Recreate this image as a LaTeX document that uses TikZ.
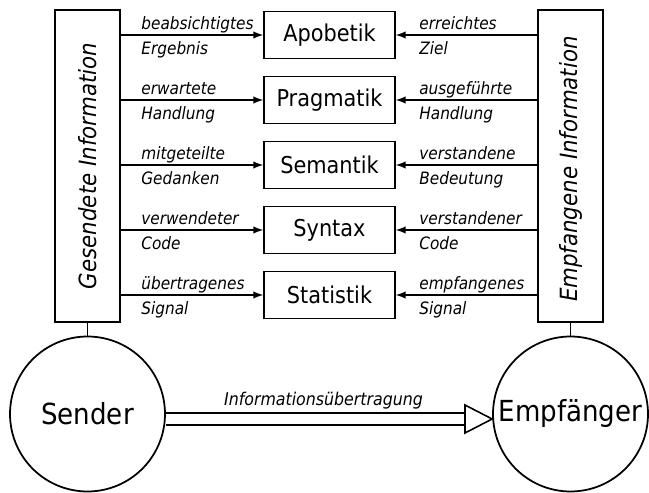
\documentclass[tikz,border=0pt]{standalone}
\usepackage{fontspec}
\setmainfont{DejaVu Sans Condensed}
\usetikzlibrary{backgrounds}

\begin{document}
\begin{tikzpicture}[
    x=0.02cm, y=-0.02cm,
    % Define node styles
    ebene/.style={
        rectangle,
        draw,
        line width=1pt,
        minimum width=2.62cm,
        minimum height=0.94cm,
        inner sep=0pt,
        font=\fontsize{13.2}{15}\selectfont
    },
    info/.style={
        rectangle,
        draw,
        line width=1pt,
        minimum width=1.3cm,
        minimum height=6.24cm,
        inner sep=0pt
    },
    infotext/.style={
        rotate=90,
        inner sep=0pt,
        font=\fontsize{13.5}{16}\selectfont\itshape
    },
    station/.style={
        circle,
        draw,
        line width=1pt,
        minimum size=3.1cm,
        inner sep=0pt,
        font=\fontsize{16.5}{20}\selectfont
    },
    beschriftung/.style={
        anchor=base west,
        inner sep=0pt,
        font=\fontsize{9.7}{11}\selectfont\itshape
    },
    pfeil/.style={draw, line width=0.9pt, -latex},
    kanal/.style={draw, line width=0.9pt, double, double distance=5.9pt},
    spitze/.style={draw, line width=0.9pt, fill=white}
]
    \useasboundingbox (0,0) rectangle (649,493);

    % Information boxes (sender and receiver side)
    \node[info] (gesendet) at (87.5,166) {};
    \node[infotext] (gesendet-text) at (87.5,166) {Gesendete Information};
    \node[info] (empfangen) at (570.5,166) {};
    \node[infotext] (empfangen-text) at (570.5,169) {Empfangene Information};

    % Levels
    \node[ebene] (apobetik) at (329.5,35) {Apobetik};
    \node[ebene] (pragmatik) at (329.5,100) {Pragmatik};
    \node[ebene] (semantik) at (329.5,165) {Semantik};
    \node[ebene] (syntax) at (329.5,230) {Syntax};
    \node[ebene] (statistik) at (329.5,295) {Statistik};

    % Sender and receiver
    \node[station] (sender) at (87.5,414) {Sender};
    \node[station] (empfaenger) at (570.5,414) {Empfänger};

    \draw[line width=1pt] (gesendet) -- (sender);
    \draw[line width=1pt] (empfangen) -- (empfaenger);

    % Arrows from the sender side
    \draw[pfeil] (gesendet.east |- apobetik) -- (apobetik);
    \draw[pfeil] (gesendet.east |- pragmatik) -- (pragmatik);
    \draw[pfeil] (gesendet.east |- semantik) -- (semantik);
    \draw[pfeil] (gesendet.east |- syntax) -- (syntax);
    \draw[pfeil] (gesendet.east |- statistik) -- (statistik);

    % Arrows from the receiver side
    \draw[pfeil] (empfangen.west |- apobetik) -- (apobetik);
    \draw[pfeil] (empfangen.west |- pragmatik) -- (pragmatik);
    \draw[pfeil] (empfangen.west |- semantik) -- (semantik);
    \draw[pfeil] (empfangen.west |- syntax) -- (syntax);
    \draw[pfeil] (empfangen.west |- statistik) -- (statistik);

    % Labels, sender side
    \node[beschriftung] (lo1) at (141,30) {beabsichtigtes};
    \node[beschriftung] (lu1) at (141,55) {Ergebnis};
    \node[beschriftung] (lo2) at (141,95) {erwartete};
    \node[beschriftung] (lu2) at (141,120) {Handlung};
    \node[beschriftung] (lo3) at (141,160) {mitgeteilte};
    \node[beschriftung] (lu3) at (141,185) {Gedanken};
    \node[beschriftung] (lo4) at (141,225) {verwendeter};
    \node[beschriftung] (lu4) at (141,250) {Code};
    \node[beschriftung] (lo5) at (141,290) {übertragenes};
    \node[beschriftung] (lu5) at (141,315) {Signal};

    % Labels, receiver side
    \node[beschriftung] (ro1) at (419,30) {erreichtes};
    \node[beschriftung] (ru1) at (419,55) {Ziel};
    \node[beschriftung] (ro2) at (419,95) {ausgeführte};
    \node[beschriftung] (ru2) at (419,120) {Handlung};
    \node[beschriftung] (ro3) at (419,160) {verstandene};
    \node[beschriftung] (ru3) at (419,185) {Bedeutung};
    \node[beschriftung] (ro4) at (419,225) {verstandener};
    \node[beschriftung] (ru4) at (419,250) {Code};
    \node[beschriftung] (ro5) at (419,290) {empfangenes};
    \node[beschriftung] (ru5) at (419,315) {Signal};

    % Transmission channel
    \coordinate (basis) at (465,419);
    \coordinate (basis-oben) at (465,405);
    \coordinate (basis-unten) at (465,433);
    \begin{scope}[on background layer]
        \draw[kanal] (sender.east |- basis) -- (basis);
    \end{scope}
    \draw[spitze] (basis-oben) -- (empfaenger.west |- basis) -- (basis-unten) -- cycle;
    \node[beschriftung, anchor=base, font=\fontsize{10}{12}\selectfont\itshape]
        (uebertragung) at (323.5,405) {Informationsübertragung};
\end{tikzpicture}
\end{document}
